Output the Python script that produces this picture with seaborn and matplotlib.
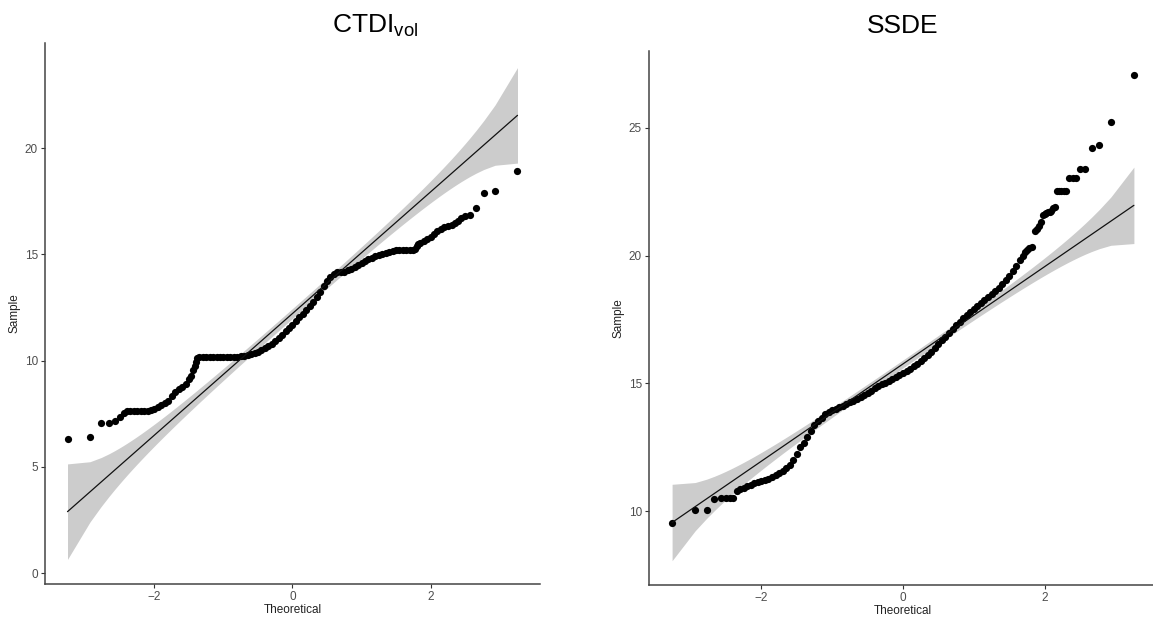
import numpy as np
import matplotlib
matplotlib.use("Agg")
import matplotlib.pyplot as plt
import seaborn as sns
from statistics import NormalDist

# ---------------- data ----------------
N_OBS = 900            # number of observations per panel (from tail spacing)
CONF = 0.95

ctdi_theo = [-3.26, -2.935, -2.773, -2.662, -2.576, -2.505, -2.446, -2.394, -2.348,
             -2.30, -2.25, -2.20, -2.15, -2.10, -2.05, -2.00, -1.95, -1.90, -1.85,
             -1.80, -1.75, -1.70, -1.65, -1.60, -1.55, -1.50, -1.47, -1.44, -1.42,
             -1.40, -1.38, -1.35, -1.30, -1.25, -1.20, -1.15, -1.10, -1.05, -1.00,
             -0.95, -0.90, -0.85, -0.80, -0.75, -0.70, -0.65, -0.60, -0.55, -0.50,
             -0.45, -0.40, -0.35, -0.30, -0.25, -0.20, -0.15, -0.10, -0.05, 0.00,
             0.05, 0.10, 0.15, 0.20, 0.25, 0.30, 0.35, 0.40, 0.45, 0.50, 0.55, 0.60,
             0.65, 0.70, 0.75, 0.80, 0.85, 0.90, 0.95, 1.00, 1.05, 1.10, 1.15, 1.20,
             1.25, 1.30, 1.35, 1.40, 1.45, 1.50, 1.55, 1.60, 1.65, 1.70, 1.75, 1.78,
             1.80, 1.82, 1.85, 1.90, 1.95, 2.00, 2.05, 2.10, 2.15, 2.20, 2.25, 2.306,
             2.348, 2.394, 2.446, 2.505, 2.576, 2.662, 2.773, 2.935, 3.26]
ctdi_sample = [6.33, 6.43, 7.08, 7.08, 7.15, 7.35, 7.55, 7.62, 7.63,
               7.64, 7.64, 7.64, 7.64, 7.65, 7.68, 7.72, 7.82, 7.93, 8.02,
               8.12, 8.35, 8.52, 8.65, 8.78, 8.92, 9.12, 9.30, 9.55, 9.75,
               9.92, 10.12, 10.17, 10.17, 10.17, 10.17, 10.17, 10.17, 10.17, 10.17,
               10.17, 10.17, 10.17, 10.17, 10.20, 10.22, 10.26, 10.30, 10.36, 10.42,
               10.50, 10.60, 10.70, 10.80, 10.92, 11.05, 11.20, 11.38, 11.55, 11.70,
               11.88, 12.05, 12.20, 12.38, 12.55, 12.78, 13.00, 13.22, 13.50, 13.75, 13.95, 14.10,
               14.15, 14.15, 14.18, 14.25, 14.33, 14.42, 14.50, 14.60, 14.70, 14.78, 14.85, 14.92,
               14.98, 15.03, 15.08, 15.12, 15.17, 15.20, 15.22, 15.22, 15.22, 15.22, 15.22, 15.25,
               15.38, 15.48, 15.55, 15.63, 15.72, 15.82, 15.95, 16.08, 16.20, 16.28, 16.33, 16.40,
               16.48, 16.58, 16.72, 16.80, 16.87, 17.19, 17.87, 17.98, 18.92]
ctdi_slope, ctdi_intercept = 2.86, 12.22

ssde_theo = [-3.26, -2.935, -2.773, -2.662, -2.576, -2.505, -2.446, -2.394, -2.348, -2.306,
             -2.25, -2.20, -2.15, -2.10, -2.05, -2.00, -1.95, -1.90, -1.85, -1.80,
             -1.75, -1.70, -1.65, -1.60, -1.55, -1.50, -1.45, -1.40, -1.35, -1.30,
             -1.25, -1.20, -1.15, -1.10, -1.05, -1.00, -0.95, -0.90, -0.85, -0.80,
             -0.75, -0.70, -0.65, -0.60, -0.55, -0.50, -0.45, -0.40, -0.35, -0.30,
             -0.25, -0.20, -0.15, -0.10, -0.05, 0.00, 0.05, 0.10, 0.15, 0.20, 0.25,
             0.30, 0.35, 0.40, 0.45, 0.50, 0.55, 0.60, 0.65, 0.70, 0.75, 0.80, 0.85,
             0.90, 0.95, 1.00, 1.05, 1.10, 1.15, 1.20, 1.25, 1.30, 1.35, 1.40, 1.45,
             1.50, 1.55, 1.60, 1.65, 1.69, 1.72, 1.75, 1.78, 1.82, 1.87, 1.89, 1.92,
             1.95, 1.98, 2.00, 2.02, 2.052, 2.074, 2.097, 2.121, 2.146, 2.174, 2.203,
             2.235, 2.268, 2.306, 2.348, 2.394, 2.446, 2.505, 2.576, 2.662, 2.773,
             2.935, 3.26]
ssde_sample = [9.54, 10.04, 10.06, 10.46, 10.50, 10.50, 10.50, 10.51, 10.80, 10.85,
               10.92, 10.97, 11.02, 11.08, 11.13, 11.18, 11.22, 11.26, 11.32, 11.40,
               11.48, 11.57, 11.68, 11.82, 12.00, 12.25, 12.50, 12.68, 12.90, 13.12,
               13.35, 13.52, 13.66, 13.78, 13.87, 13.94, 14.00, 14.06, 14.12, 14.18,
               14.25, 14.32, 14.40, 14.48, 14.56, 14.62, 14.70, 14.80, 14.90, 14.97,
               15.03, 15.10, 15.17, 15.25, 15.33, 15.42, 15.50, 15.58, 15.66, 15.76, 15.88,
               16.00, 16.10, 16.22, 16.38, 16.55, 16.68, 16.82, 16.97, 17.12, 17.28, 17.42, 17.56,
               17.68, 17.80, 17.92, 18.04, 18.16, 18.28, 18.38, 18.48, 18.60, 18.73, 18.90, 19.06,
               19.22, 19.40, 19.60, 19.82, 20.00, 20.15, 20.22, 20.30, 20.35, 20.98, 21.05, 21.15,
               21.32, 21.60, 21.63, 21.68, 21.72, 21.72, 21.75, 21.85, 21.91, 22.53, 22.53,
               22.53, 22.53, 22.53, 23.05, 23.05, 23.05, 23.39, 23.39, 24.23, 24.34,
               25.23, 27.06]
ssde_slope, ssde_intercept = 1.904, 15.76

titles = ["CTDI$_{vol}$", "SSDE"]
ctdi_yticks = [0, 5, 10, 15, 20]
ssde_yticks = [10, 15, 20, 25]
xticks = [-2, 0, 2]

# ---------------- style ----------------
sns.set_style("ticks")
plt.rcParams["font.family"] = ["Liberation Sans", "DejaVu Sans"]
plt.rcParams["mathtext.default"] = "regular"

W, H = 1153, 623
fig = plt.figure(figsize=(W / 100, H / 100), dpi=100)

def px_axes(x0, y0, x1, y1):
    return fig.add_axes([x0 / W, 1 - y1 / H, (x1 - x0) / W, (y1 - y0) / H])

ax_l = px_axes(45, 43, 540, 584)
ax_r = px_axes(649, 51, 1157, 585)

nd = NormalDist()
zcrit = nd.inv_cdf(1 - (1 - CONF) / 2)
probs = (np.arange(1, N_OBS + 1) - 0.5) / N_OBS
zq = np.array([nd.inv_cdf(p) for p in probs])
dens = np.array([nd.pdf(z) for z in zq])

def panel(ax, theo, sample, slope, intercept, yticks):
    fit = intercept + slope * zq
    se = slope / dens * np.sqrt(probs * (1 - probs) / N_OBS)
    ax.fill_between(zq, fit - zcrit * se, fit + zcrit * se, color="#cccccc",
                    linewidth=0, zorder=1)
    sns.scatterplot(x=theo, y=sample, ax=ax, color="black", s=27,
                    edgecolor="black", linewidth=0, zorder=2)
    sns.lineplot(x=[zq[0], zq[-1]], y=[fit[0], fit[-1]], ax=ax, color="#111111",
                 linewidth=0.9, zorder=3)
    ax.margins(0.05)
    ax.set_xticks(xticks)
    ax.set_yticks(yticks)
    ax.set_xlabel("Theoretical", fontsize=8.5, color="#222222", labelpad=1)
    ax.set_ylabel("Sample", fontsize=8.5, color="#222222", labelpad=3)
    sns.despine(ax=ax)
    for s in ("left", "bottom"):
        ax.spines[s].set_color("#444444")
        ax.spines[s].set_linewidth(1.1)
    ax.tick_params(length=3, width=0.8, color="#333333", labelcolor="#4d4d4d",
                   labelsize=8.5, pad=2)

panel(ax_l, ctdi_theo, ctdi_sample, ctdi_slope, ctdi_intercept, ctdi_yticks)
panel(ax_r, ssde_theo, ssde_sample, ssde_slope, ssde_intercept, ssde_yticks)

fig.text(375 / W, 1 - 26 / H, titles[0], ha="center", va="center", fontsize=19,
         color="black")
fig.text(903 / W, 1 - 26 / H, titles[1], ha="center", va="center", fontsize=19,
         color="black")

fig.savefig("out.png", dpi=100)
